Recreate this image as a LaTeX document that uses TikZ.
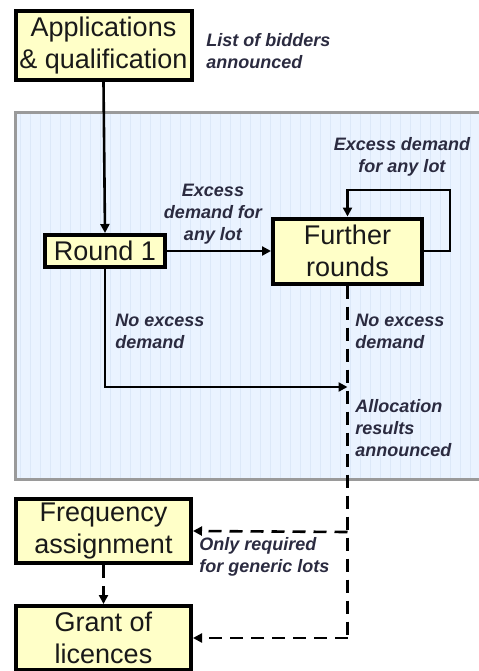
\documentclass[tikz,border=0pt]{standalone}
\usepackage{fontspec}
\setmainfont{Liberation Sans}
\usetikzlibrary{arrows.meta}
\definecolor{stagefill}{HTML}{FFFFC8}
\definecolor{panelfill}{HTML}{EAF3FF}
\definecolor{panelgrid}{HTML}{DCE8F8}
\definecolor{panelrule}{HTML}{9A9A9A}
\definecolor{notetext}{HTML}{2B2B40}
\begin{document}
\begin{tikzpicture}[x=0.5pt,y=-0.5pt]
        \tikzstyle{stage}=[draw=black,line width=2pt,fill=stagefill,align=center,inner sep=1pt,font=\fontsize{13.5}{16}\selectfont,text=black!90]
        \tikzstyle{note}=[inner sep=0pt,text=notetext,font=\fontsize{9}{11}\selectfont\bfseries\itshape]
        \tikzstyle{flow}=[line width=1.3pt,-{Triangle[length=4.5pt,width=4.5pt]}]
        \tikzstyle{optflow}=[flow,dash pattern=on 6.5pt off 4pt]
        \useasboundingbox (0,0) rectangle (478,671);
        % shaded panel with the auction rounds
        \fill[panelfill] (15,112) rectangle (490,479);
        \begin{scope}
            \clip (15,112) rectangle (490,479);
            \draw[panelgrid,line width=0.3pt,step=10] (10,110) grid (490,480);
        \end{scope}
        \draw[panelrule,line width=1.5pt] (490,112) -- (15,112) -- (15,479) -- (490,479);
        % stages
        \node[stage,minimum width=88pt,minimum height=34.5pt] (apply) at (103.5,45.5) {Applications\\\& qualification};
        \node[stage,minimum width=60pt,minimum height=16pt] (round1) at (105,251) {Round 1};
        \node[stage,minimum width=74.5pt,minimum height=32.5pt] (further) at (347.5,251) {Further\\rounds};
        \node[stage,minimum width=87.5pt,minimum height=32pt] (freq) at (103.5,531) {Frequency\\assignment};
        \node[stage,minimum width=87.5pt,minimum height=32pt] (grant) at (103.5,638) {Grant of\\licences};
        % notes
        \node[note,anchor=west,align=left] (bidders) at (206,51) {List of bidders\\announced};
        \node[note,align=center] (excess1) at (213,214) {Excess\\demand for\\any lot};
        \node[note,align=center] (excess2) at (402,157) {Excess demand\\for any lot};
        \node[note,anchor=west,align=left] (noexcess1) at (115,331) {No excess\\demand};
        \node[note,anchor=west,align=left] (noexcess2) at (355,331) {No excess\\demand};
        \node[note,anchor=west,align=left] (results) at (355,428) {Allocation\\results\\announced};
        \node[note,anchor=west,align=left] (generic) at (199,557) {Only required\\for generic lots};
        % connectors
        \coordinate (loop) at (450,190);
        \coordinate (join) at (347.5,387);
        \coordinate (split) at (347.5,532);
        \coordinate (last) at (347.5,638);
        \draw[flow] (apply.south) -- (round1.north);
        \draw[flow] (round1.east) -- (further.west);
        \draw[flow] (further.east) -| (loop) -| (further.north);
        \draw[flow] (round1.south) |- (join);
        \draw[line width=1.3pt,dash pattern=on 6.5pt off 4pt] (further.south) -- (last);
        \draw[optflow] (split) -- (freq.east);
        \draw[optflow] (last) -- (grant.east);
        \draw[optflow] (freq.south) -- (grant.north);
\end{tikzpicture}
\end{document}
